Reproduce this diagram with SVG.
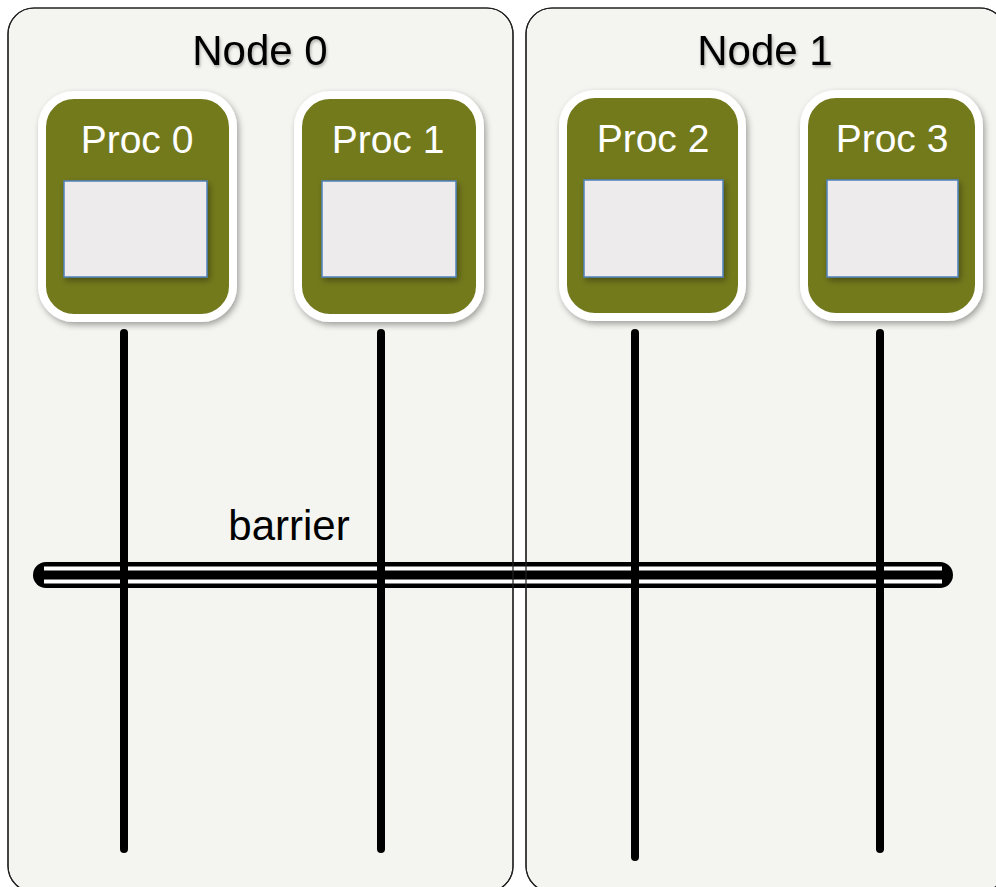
<svg xmlns="http://www.w3.org/2000/svg" width="996" height="887" viewBox="0 0 996 887">
<defs>
<style>
.nodebox{fill:#f4f5f0;stroke:#222;stroke-width:1.2}
.nodelbl{font-family:"Liberation Sans",Arial,sans-serif;font-size:42px;fill:#000;text-anchor:middle}
.proc{fill:#737a1f;stroke:#fff;stroke-width:8}
.proclbl{font-family:"Liberation Sans",Arial,sans-serif;font-size:39px;fill:#fff;text-anchor:middle}
.mem{fill:#edebeb;stroke:#4f81bd;stroke-width:1.5}
.life{stroke:#000;stroke-width:8;stroke-linecap:round;fill:none}
</style>
<filter id="sh" x="-20%" y="-20%" width="140%" height="140%">
<feDropShadow dx="2" dy="3" stdDeviation="3" flood-color="#000" flood-opacity="0.35"/>
</filter>
<filter id="tsh" x="-10%" y="-20%" width="120%" height="140%">
<feDropShadow dx="1" dy="2" stdDeviation="1.5" flood-color="#000" flood-opacity="0.3"/>
</filter>
</defs>
<rect width="996" height="887" fill="#fff"/>
<g id="node0">
<rect class="nodebox" x="8" y="8" width="505" height="884" rx="26"/>
<text class="nodelbl" x="260" y="65" filter="url(#tsh)">Node 0</text>
</g>
<g id="node1">
<rect class="nodebox" x="526" y="8" width="480" height="884" rx="26"/>
<text class="nodelbl" x="765" y="65" filter="url(#tsh)">Node 1</text>
</g>
<g id="proc0">
<rect class="proc" x="42" y="95" width="191" height="223" rx="32" filter="url(#sh)"/>
<text class="proclbl" x="137" y="153">Proc 0</text>
<rect class="mem" x="64" y="181" width="143" height="96" filter="url(#sh)"/>
</g>
<g id="proc1">
<rect class="proc" x="298" y="95" width="182" height="223" rx="32" filter="url(#sh)"/>
<text class="proclbl" x="388" y="153">Proc 1</text>
<rect class="mem" x="322" y="181" width="134" height="96" filter="url(#sh)"/>
</g>
<g id="proc2">
<rect class="proc" x="563" y="94" width="179" height="223" rx="32" filter="url(#sh)"/>
<text class="proclbl" x="653" y="152">Proc 2</text>
<rect class="mem" x="584" y="180" width="139" height="97" filter="url(#sh)"/>
</g>
<g id="proc3">
<rect class="proc" x="804" y="94" width="175" height="223" rx="32" filter="url(#sh)"/>
<text class="proclbl" x="892" y="152">Proc 3</text>
<rect class="mem" x="827" y="180" width="131" height="97" filter="url(#sh)"/>
</g>
<g id="barrier">
<line x1="46" y1="575" x2="940" y2="575" stroke="#000" stroke-width="26" stroke-linecap="round"/>
<line x1="44" y1="575" x2="942" y2="575" stroke="#fff" stroke-width="17"/>
<line x1="44" y1="575" x2="942" y2="575" stroke="#000" stroke-width="9"/>
<text x="289" y="540" font-family="Liberation Sans, Arial, sans-serif" font-size="42" fill="#000" text-anchor="middle">barrier</text>
</g>
<g id="connectors">
<line class="life" x1="124" y1="333" x2="124" y2="849"/>
<line class="life" x1="381" y1="333" x2="381" y2="849"/>
<line class="life" x1="635" y1="333" x2="635" y2="857"/>
<line class="life" x1="880" y1="333" x2="880" y2="849"/>
</g>
<g id="node-borders" fill="none" stroke="#222" stroke-width="1.2">
<rect x="8" y="8" width="505" height="884" rx="26"/>
<rect x="526" y="8" width="480" height="884" rx="26"/>
</g>
</svg>
